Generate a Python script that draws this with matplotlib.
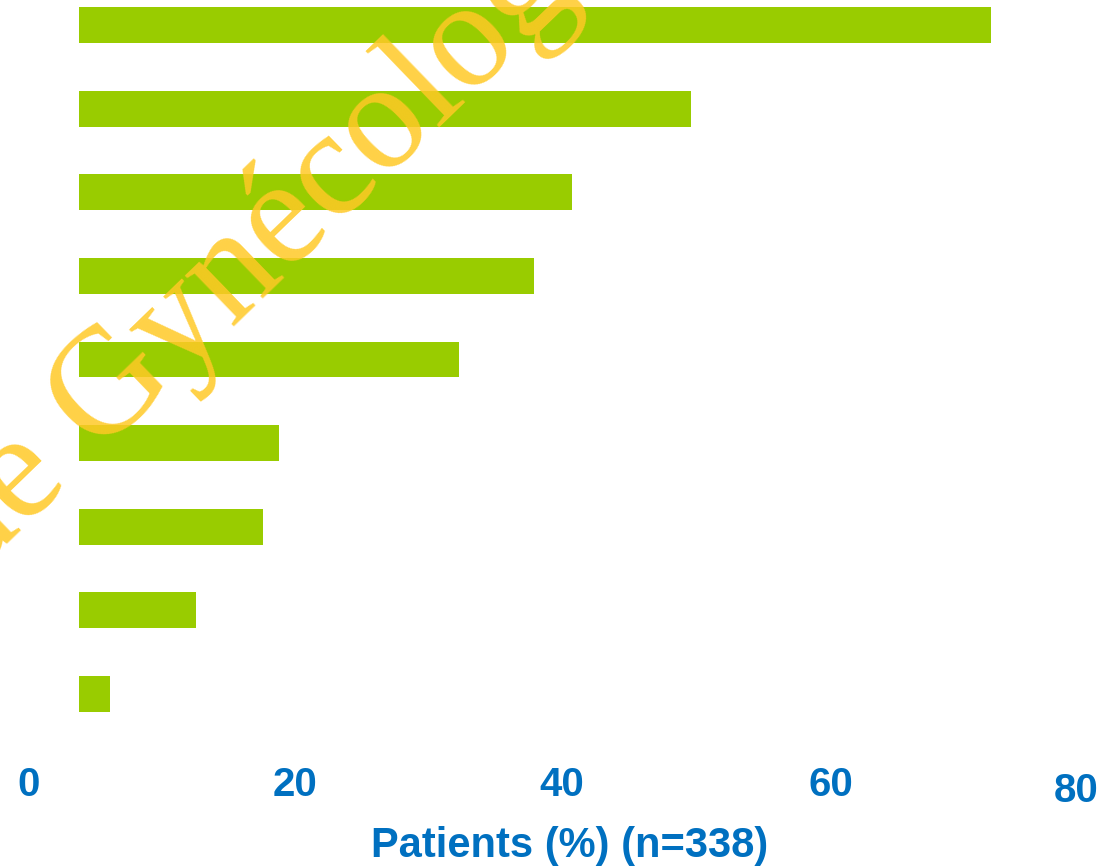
import numpy as np
import matplotlib
matplotlib.use("Agg")
import matplotlib.pyplot as plt
from matplotlib.transforms import ScaledTranslation, blended_transform_factory

# Share of patients (%) per item, listed from top bar to bottom bar
patients_pct = [68.6, 46.0, 37.1, 34.2, 28.6, 15.0, 13.8, 8.8, 2.3]
x_ticks = [0, 20, 40, 60, 80]
x_tick_labels = ["0", "20", "40", "60", "80"]
x_label = "Patients (%) (n=338)"

BAR_GREEN = "#99CC00"
TEXT_BLUE = "#0070C0"
MARK_YELLOW = "#FFC926"

W, H, DPI = 1112, 866, 100
fig = plt.figure(figsize=(W / DPI, H / DPI), dpi=DPI)
fig.patch.set_facecolor("white")

# axes placed in pixel units (left, bottom, width, height)
ax_left, ax_bottom, ax_w, ax_h = 79, 866 - 735.8, 1064, 752.6
ax = fig.add_axes([ax_left / W, ax_bottom / H, ax_w / W, ax_h / H])

ypos = np.arange(len(patients_pct))
ax.barh(ypos, patients_pct, height=0.43, color=BAR_GREEN, left=0)
ax.set_xlim(0, 80)
ax.set_ylim(len(patients_pct) - 0.5, -0.5)

for side in ax.spines.values():
    side.set_visible(False)
ax.set_yticks([])
ax.set_xticks([])
ax.set_facecolor("none")

# x tick labels, drawn as free text under each tick value
trans = blended_transform_factory(ax.transData, fig.transFigure)
nudges_px = [-50, -50, -49, -46, -67]
drops_px = [0, 0, 0, 0, 6]
for v, lab, dx, dy in zip(x_ticks, x_tick_labels, nudges_px, drops_px):
    t = trans + ScaledTranslation(dx / DPI, -dy / DPI, fig.dpi_scale_trans)
    ax.text(v, 1 - 785 / H, lab, transform=t, ha="center", va="center",
            fontsize=29, fontweight="bold", color=TEXT_BLUE,
            family="Liberation Sans", clip_on=False)

fig.text(570 / W, 1 - 846 / H, x_label, ha="center", va="center",
         fontsize=30, fontweight="bold", color=TEXT_BLUE, family="Liberation Sans")

# diagonal watermark
ang = 44.0
em = 152.0
gx, gy = 97.0, 452.0
fig.text(gx / W, 1 - gy / H, "Gynécologie", rotation=ang, rotation_mode="anchor",
         ha="left", va="baseline", fontsize=em * 72 / DPI, color=MARK_YELLOW,
         alpha=0.85, family="Liberation Serif", zorder=10)
back = 0.25 * em
dx = gx - back * np.cos(np.radians(ang))
dy = gy + back * np.sin(np.radians(ang))
fig.text(dx / W, 1 - dy / H, "de", rotation=ang, rotation_mode="anchor",
         ha="right", va="baseline", fontsize=em * 72 / DPI, color=MARK_YELLOW,
         alpha=0.85, family="Liberation Serif", zorder=10)

fig.savefig("out.png", dpi=DPI, facecolor="white")
